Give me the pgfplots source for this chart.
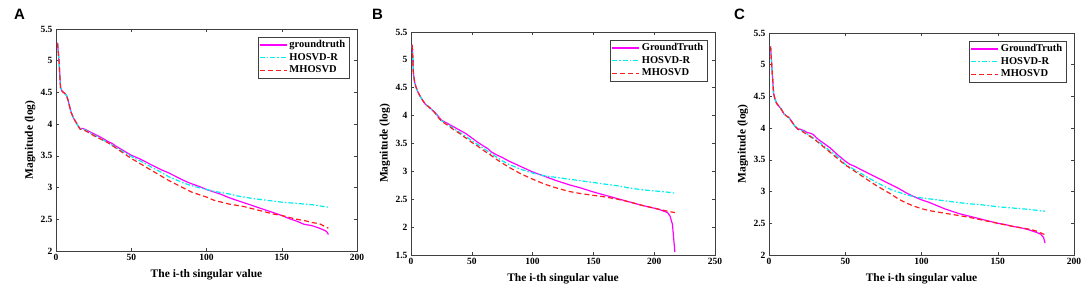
\documentclass[border=0pt]{standalone}
\usepackage{fontspec}
\setmainfont{Liberation Serif}
\setsansfont{Liberation Sans}
\usepackage{pgfplots}
\pgfplotsset{compat=1.18}
\definecolor{mgt}{RGB}{255,0,255}
\definecolor{mhr}{RGB}{0,238,238}
\definecolor{mmh}{RGB}{255,30,30}
\tikzset{
 gt/.style={draw=mgt, line width=1.2pt, solid},
 hr/.style={draw=mhr, line width=1.2pt, dash pattern=on 5pt off 2pt on 1.5pt off 2pt},
 mh/.style={draw=mmh, line width=1.2pt, dash pattern=on 5pt off 3pt},
}
\pgfplotsset{
 mystyle/.style={
  scale only axis,
  anchor=south west,
  axis line style={black!75, line width=0.6pt},
  tick style={black!75, line width=0.5pt},
  tick align=inside,
  major tick length=3pt,
  /pgf/number format/assume math mode=true,
  tick label style={font=\fontsize{9.5}{10}\selectfont\bfseries},
  label style={font=\fontsize{11.5}{12}\selectfont\bfseries},
  xlabel={The i-th singular value},
  ylabel={Magnitude (log)},
  xlabel style={at={(axis description cs:0.5,0)}, anchor=center, yshift=-24pt},
  ylabel style={at={(axis description cs:-0.086,0.5)}, anchor=center},
  legend style={at={(axis description cs:1,1)}, anchor=north east, xshift=-8pt, yshift=-8pt,
    draw=black!75, fill=white, font=\fontsize{10.5}{12}\selectfont\bfseries,
    inner sep=1.5pt, row sep=0pt, cells={anchor=west}},
  xmin=0,
  enlargelimits=false,
 },
 lgt/.style={gt, legend image code/.code={\draw[gt] (0pt,0pt) -- (27pt,0pt);}},
 lhr/.style={hr, legend image code/.code={\draw[hr] (0pt,0pt) -- (27pt,0pt);}},
 lmh/.style={mh, legend image code/.code={\draw[mh] (0pt,0pt) -- (27pt,0pt);}},
}
\begin{document}
\begin{tikzpicture}
\path[use as bounding box] (0,0) rectangle (1084pt,291pt);
% Panel A
\begin{axis}[mystyle, at={(56pt,40pt)}, width=301pt, height=222pt,
  xmax=200, ymin=2, ymax=5.5, xtick={0,50,100,150,200}, ytick={2,2.5,3,3.5,4,4.5,5,5.5}]
\addplot[lgt] coordinates {(1,5.28)(2,5.0)(3,4.58)(4,4.52)(5,4.50)(6,4.48)(7,4.45)(8,4.38)(9,4.28)(10,4.19)(11,4.13)(12,4.08)(13,4.04)(14,4.00)(15,3.96)(16,3.93)(18,3.93)(20,3.91)(25,3.85)(30,3.79)(35,3.72)(37,3.70)(40,3.65)(45,3.58)(50,3.51)(55,3.46)(60,3.40)(65,3.34)(70,3.28)(75,3.23)(80,3.17)(85,3.11)(90,3.06)(95,3.02)(100,2.97)(105,2.93)(110,2.89)(115,2.84)(120,2.80)(125,2.76)(130,2.72)(135,2.68)(140,2.64)(145,2.60)(150,2.56)(155,2.51)(160,2.47)(165,2.42)(170,2.40)(175,2.36)(179,2.32)(180,2.30)(181,2.26)};
\addlegendentry{groundtruth}
\addplot[lhr] coordinates {(1,5.28)(2,5.0)(3,4.58)(4,4.52)(5,4.50)(6,4.48)(7,4.45)(8,4.38)(9,4.28)(10,4.19)(11,4.13)(12,4.08)(13,4.04)(14,4.00)(15,3.96)(16,3.93)(18,3.92)(20,3.90)(25,3.83)(30,3.77)(35,3.70)(40,3.63)(45,3.56)(50,3.49)(55,3.43)(60,3.37)(65,3.30)(70,3.24)(75,3.17)(80,3.12)(85,3.07)(90,3.03)(95,3.00)(100,2.97)(105,2.94)(110,2.92)(115,2.90)(120,2.87)(125,2.85)(130,2.83)(140,2.80)(150,2.77)(160,2.75)(170,2.73)(181,2.69)};
\addlegendentry{HOSVD-R}
\addplot[lmh] coordinates {(1,5.28)(2,5.0)(3,4.58)(4,4.52)(5,4.50)(6,4.48)(7,4.45)(8,4.38)(9,4.28)(10,4.19)(11,4.13)(12,4.08)(13,4.04)(14,4.00)(15,3.96)(16,3.92)(18,3.91)(20,3.89)(25,3.82)(30,3.76)(35,3.70)(40,3.62)(45,3.54)(50,3.46)(55,3.39)(60,3.32)(65,3.25)(70,3.18)(75,3.11)(80,3.05)(85,2.99)(90,2.93)(95,2.89)(100,2.85)(105,2.80)(110,2.77)(115,2.74)(120,2.72)(125,2.70)(130,2.67)(135,2.64)(140,2.61)(145,2.58)(150,2.56)(155,2.53)(160,2.50)(165,2.48)(170,2.45)(175,2.43)(181,2.36)};
\addlegendentry{MHOSVD}
\end{axis}
% Panel B
\begin{axis}[mystyle, at={(411pt,36pt)}, width=304pt, height=223pt,
  xmax=250, ymin=1.5, ymax=5.5, xtick={0,50,100,150,200,250}, ytick={1.5,2,2.5,3,3.5,4,4.5,5,5.5}]
\addplot[lgt] coordinates {(1,5.27)(2,4.75)(3,4.60)(4,4.52)(5,4.46)(6,4.41)(8,4.33)(10,4.26)(12,4.20)(15,4.15)(18,4.09)(20,4.05)(22,4.00)(25,3.92)(30,3.86)(35,3.80)(40,3.74)(45,3.68)(50,3.60)(55,3.52)(60,3.45)(63,3.41)(66,3.35)(70,3.30)(75,3.25)(80,3.19)(90,3.09)(100,2.99)(110,2.91)(120,2.83)(130,2.76)(140,2.70)(150,2.63)(160,2.57)(170,2.51)(180,2.45)(190,2.39)(200,2.34)(205,2.31)(211,2.26)(213,2.20)(215,2.05)(216,1.80)(217,1.55)};
\addlegendentry{GroundTruth}
\addplot[lhr] coordinates {(1,5.27)(2,4.75)(3,4.60)(4,4.52)(5,4.46)(6,4.41)(8,4.33)(10,4.26)(12,4.20)(15,4.15)(18,4.09)(20,4.04)(22,3.99)(25,3.91)(30,3.84)(35,3.77)(40,3.70)(45,3.63)(50,3.55)(55,3.48)(60,3.41)(65,3.33)(70,3.26)(75,3.19)(80,3.13)(90,3.04)(100,2.97)(110,2.92)(120,2.89)(130,2.86)(140,2.83)(150,2.80)(160,2.77)(170,2.74)(180,2.70)(190,2.67)(200,2.65)(210,2.63)(217,2.61)};
\addlegendentry{HOSVD-R}
\addplot[lmh] coordinates {(1,5.27)(2,4.75)(3,4.60)(4,4.52)(5,4.46)(6,4.41)(8,4.33)(10,4.26)(12,4.20)(15,4.15)(18,4.09)(20,4.04)(22,3.98)(25,3.90)(30,3.83)(35,3.75)(40,3.68)(45,3.60)(50,3.52)(55,3.45)(60,3.37)(65,3.30)(70,3.22)(75,3.15)(80,3.08)(90,2.96)(100,2.86)(110,2.77)(120,2.70)(130,2.64)(140,2.60)(150,2.57)(160,2.54)(170,2.50)(180,2.45)(190,2.39)(200,2.34)(210,2.29)(217,2.26)};
\addlegendentry{MHOSVD}
\end{axis}
% Panel C
\begin{axis}[mystyle, at={(769pt,36pt)}, width=305pt, height=222pt,
  xmax=200, ymin=2, ymax=5.5, xtick={0,50,100,150,200}, ytick={2,2.5,3,3.5,4,4.5,5,5.5}]
\addplot[lgt] coordinates {(1,5.29)(2,4.92)(3,4.55)(4,4.45)(5,4.39)(6,4.36)(8,4.30)(10,4.22)(12,4.18)(13,4.17)(15,4.10)(17,4.03)(19,3.99)(21,3.98)(23,3.96)(25,3.93)(27,3.92)(29,3.90)(31,3.85)(33,3.81)(36,3.76)(40,3.69)(45,3.58)(50,3.48)(53,3.43)(56,3.40)(60,3.35)(65,3.29)(70,3.23)(75,3.17)(80,3.11)(85,3.05)(90,2.98)(95,2.92)(100,2.87)(105,2.83)(110,2.78)(115,2.73)(120,2.69)(125,2.65)(130,2.62)(135,2.59)(140,2.56)(145,2.53)(150,2.50)(155,2.48)(160,2.45)(165,2.43)(170,2.40)(175,2.36)(178,2.33)(180,2.28)(181,2.19)};
\addlegendentry{GroundTruth}
\addplot[lhr] coordinates {(1,5.29)(2,4.92)(3,4.55)(4,4.45)(5,4.39)(6,4.36)(8,4.30)(10,4.22)(12,4.18)(13,4.17)(15,4.10)(17,4.03)(19,3.99)(21,3.97)(25,3.91)(30,3.83)(35,3.74)(40,3.64)(45,3.55)(50,3.43)(55,3.36)(60,3.29)(65,3.22)(70,3.15)(75,3.09)(80,3.03)(85,2.99)(90,2.95)(95,2.92)(100,2.90)(110,2.87)(120,2.84)(130,2.81)(140,2.79)(150,2.76)(160,2.74)(170,2.72)(181,2.69)};
\addlegendentry{HOSVD-R}
\addplot[lmh] coordinates {(1,5.29)(2,4.92)(3,4.55)(4,4.45)(5,4.39)(6,4.36)(8,4.30)(10,4.22)(12,4.18)(13,4.17)(15,4.10)(17,4.03)(19,3.98)(21,3.96)(25,3.90)(30,3.82)(35,3.72)(40,3.62)(45,3.52)(50,3.42)(55,3.34)(60,3.26)(65,3.18)(70,3.10)(75,3.03)(80,2.96)(85,2.88)(90,2.82)(95,2.77)(100,2.73)(105,2.70)(110,2.68)(120,2.64)(130,2.60)(140,2.55)(150,2.50)(160,2.45)(170,2.41)(175,2.38)(181,2.32)};
\addlegendentry{MHOSVD}
\end{axis}
\node[anchor=north west, inner sep=0pt, font=\sffamily\bfseries\fontsize{15}{15}\selectfont] at (14pt,282pt) {A};
\node[anchor=north west, inner sep=0pt, font=\sffamily\bfseries\fontsize{15}{15}\selectfont] at (372pt,282pt) {B};
\node[anchor=north west, inner sep=0pt, font=\sffamily\bfseries\fontsize{15}{15}\selectfont] at (734pt,282pt) {C};
\end{tikzpicture}
\end{document}
